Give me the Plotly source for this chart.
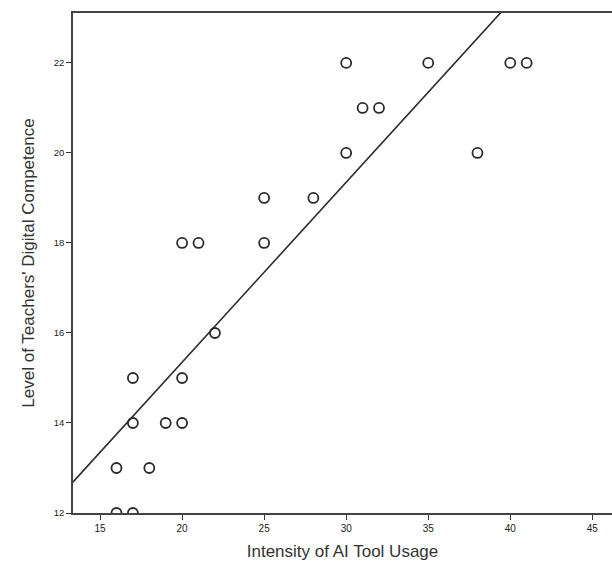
import plotly.graph_objects as go

# Data
ai_usage = [16, 16, 17, 17, 17, 18, 19, 20, 20, 20, 21, 22, 25, 25, 28, 30, 30, 31, 32, 35, 38, 40, 41]
competence = [13, 12, 12, 15, 14, 13, 14, 14, 15, 18, 18, 16, 19, 18, 19, 22, 20, 21, 21, 22, 20, 22, 22]

# Fit line (as drawn in the reference)
fit_intercept = 7.35
fit_slope = 0.40
fit_x = [13.0, 47.0]
fit_y = [fit_intercept + fit_slope * v for v in fit_x]

x_ticks = [15, 20, 25, 30, 35, 40, 45]
y_ticks = [12, 14, 16, 18, 20, 22]

fig = go.Figure()
fig.add_trace(go.Scatter(
    x=fit_x, y=fit_y, mode="lines",
    line=dict(color="#2b2b2b", width=1.6),
    hoverinfo="skip", showlegend=False,
))
fig.add_trace(go.Scatter(
    x=ai_usage, y=competence, mode="markers",
    marker=dict(symbol="circle-open", size=10, color="#2b2b2b", line=dict(width=1.8, color="#2b2b2b")),
    showlegend=False,
))

fig.update_layout(
    width=612, height=567,
    margin=dict(l=73, r=0, t=13, b=54),
    paper_bgcolor="white", plot_bgcolor="white",
    font=dict(family="Liberation Sans, Arial, sans-serif", color="#333333"),
    xaxis=dict(
        range=[13.35, 46.2], tickvals=x_ticks, ticks="outside", ticklen=5, tickwidth=1.2,
        tickcolor="#333333", showline=True, linecolor="#444444", linewidth=1.6, mirror=True,
        showgrid=False, zeroline=False, automargin=False,
        tickfont=dict(size=10, color="#222222"),
        title=dict(text="Intensity of AI Tool Usage", font=dict(size=17, color="#333333"), standoff=12),
    ),
    yaxis=dict(
        range=[12, 23.11], tickvals=y_ticks, ticks="outside", ticklen=5, tickwidth=1.2,
        tickcolor="#333333", showline=True, linecolor="#444444", linewidth=1.6, mirror=True,
        showgrid=False, zeroline=False, automargin=False,
        tickfont=dict(size=9.5, color="#222222"),
        title=dict(text="Level of Teachers' Digital Competence", font=dict(size=17, color="#333333"), standoff=15),
    ),
)

fig.write_html("out.html", config={"displayModeBar": False},
               post_script="document.body.style.margin='0';")
